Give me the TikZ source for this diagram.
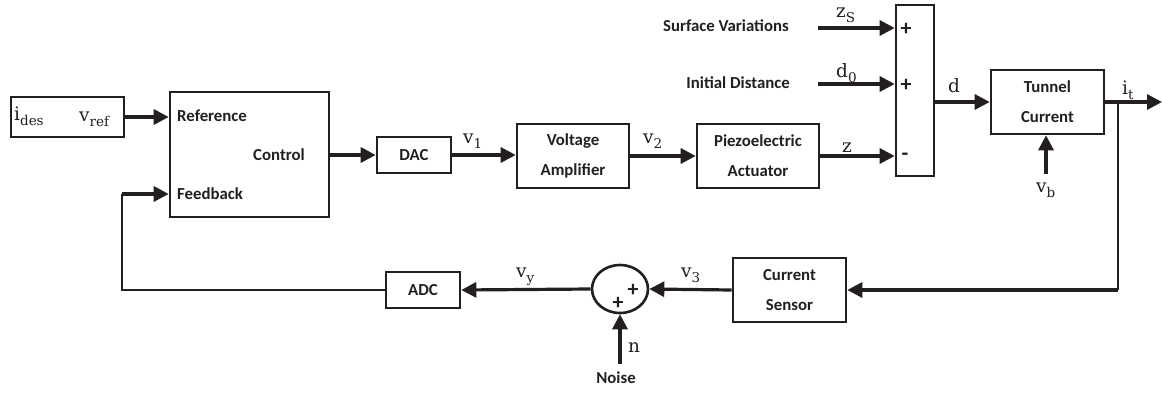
\documentclass[tikz,border=0pt]{standalone}
\usepackage{fontspec}
\newfontfamily\labfont{Carlito}
\newfontfamily\symfont{DejaVu Serif}
\usetikzlibrary{arrows.meta,shapes.geometric}
\definecolor{ink}{HTML}{231F20}
\newcommand\symsub[2]{#1\raisebox{-5pt}{\fontsize{13.5}{14}\selectfont #2}}
\begin{document}
\begin{tikzpicture}[x=1pt,y=-1pt,
  every node/.style={text=ink},
  blk/.style={draw=ink, line width=2.6pt, rectangle, inner sep=0pt, align=center,
    font=\labfont\bfseries\fontsize{16.8}{30}\selectfont},
  lab/.style={inner sep=0pt, font=\labfont\bfseries\fontsize{16.8}{19}\selectfont},
  sgn/.style={inner sep=0pt, font=\labfont\bfseries\fontsize{22}{22}\selectfont},
  mlab/.style={inner sep=0pt, anchor=base west, font=\symfont\fontsize{18.5}{22}\selectfont},
  arr/.style={draw=ink, line width=3.2pt, -{Triangle[length=15pt,width=15pt]}},
  wire/.style={draw=ink, line width=2.4pt},
]
\useasboundingbox (0,0) rectangle (1162,394);

% blocks
\node[blk, minimum width=113pt, minimum height=40pt] (ides) at (67.5,117) {};
\node[blk, minimum width=159pt, minimum height=125pt] (ctrl) at (249.5,154.5) {};
\node[blk, minimum width=74pt, minimum height=36pt] (dac) at (414,155) {DAC};
\node[blk, minimum width=112pt, minimum height=64pt] (vamp) at (573,156) {Voltage\\Amplifier};
\node[blk, minimum width=122pt, minimum height=64pt] (piezo) at (758,156) {Piezoelectric\\Actuator};
\node[blk, minimum width=38pt, minimum height=171pt] (sum) at (915,90.5) {};
\node[blk, minimum width=113pt, minimum height=64pt] (tunnel) at (1047.5,102) {Tunnel\\Current};
\node[blk, minimum width=113pt, minimum height=64pt] (sensor) at (789.5,290) {Current\\Sensor};
\node[blk, minimum width=74pt, minimum height=36pt] (adc) at (423,290) {ADC};
\node[draw=ink, line width=2.6pt, ellipse, inner sep=0pt, minimum width=56pt, minimum height=48pt] (el) at (620,289) {};

% texts inside control box
\node[lab, anchor=west] (tref) at (177,116) {Reference};
\node[lab] (tctrl) at (279,155) {Control};
\node[lab, anchor=west] (tfb) at (177,194) {Feedback};

% signs
\node[sgn] (p1) at (906,29) {+};
\node[sgn] (p2) at (906,85) {+};
\node[sgn] (m1) at (905,157) {-};
\node[sgn] (p3) at (633,290) {+};
\node[sgn] (p4) at (618,303) {+};

% external texts
\node[lab, anchor=east] (tsurf) at (789,26) {Surface Variations};
\node[lab, anchor=east] (tinit) at (790,83) {Initial Distance};
\node[lab] (tnoise) at (616,378) {Noise};

% symbol labels
\node[mlab] (lides) at (14,120) {\symsub{i}{des}};
\node[mlab] (lvref) at (79,121) {\symsub{v}{ref}};
\node[mlab] (lv1) at (463,143) {\symsub{v}{1}};
\node[mlab] (lv2) at (643,143) {\symsub{v}{2}};
\node[mlab] (lz) at (842,152) {z};
\node[mlab] (lzs) at (836,17) {\symsub{z}{S}};
\node[mlab] (ld0) at (836,77) {\symsub{d}{0}};
\node[mlab] (ld) at (948,92) {d};
\node[mlab] (lit) at (1122,94) {\symsub{i}{t}};
\node[mlab] (lvb) at (1036,192) {\symsub{v}{b}};
\node[mlab] (lvy) at (516,277) {\symsub{v}{y}};
\node[mlab] (lv3) at (681,277) {\symsub{v}{3}};
\node[mlab] (ln) at (628,352) {n};

% coordinates
\coordinate (fb) at (122,290);
\coordinate (fbt) at (122,194);
\coordinate (zsin) at (818,28);
\coordinate (d0in) at (818,84);
\coordinate (out) at (1162,102);
\coordinate (br) at (1118,102);
\coordinate (brd) at (1118,290);
\coordinate (vb) at (1046,174);
\coordinate (nz) at (620,364);

% connectors
\draw[arr] (ides.east) -- (ides.east -| ctrl.west);
\draw[wire] (adc.west) -- (fb) -- (fbt);
\draw[arr] (fbt) -- (fbt -| ctrl.west);
\draw[arr] (ctrl.east |- dac.west) -- (dac.west);
\draw[arr] (dac.east) -- (dac.east -| vamp.west);
\draw[arr] (vamp.east) -- (piezo.west);
\draw[arr] (piezo.east) -- (piezo.east -| sum.west);
\draw[arr] (zsin) -- (zsin -| sum.west);
\draw[arr] (d0in) -- (d0in -| sum.west);
\draw[arr] (sum.east |- tunnel.west) -- (tunnel.west);
\draw[arr] (tunnel.east) -- (out);
\draw[wire] (br) -- (brd);
\draw[arr] (brd) -- (sensor.east);
\draw[arr] (vb) -- (vb |- tunnel.south);
\draw[arr] (sensor.west) -- (el.east);
\draw[arr] (el.west) -- (adc.east);
\draw[arr] (nz) -- (el.south);
\end{tikzpicture}
\end{document}
